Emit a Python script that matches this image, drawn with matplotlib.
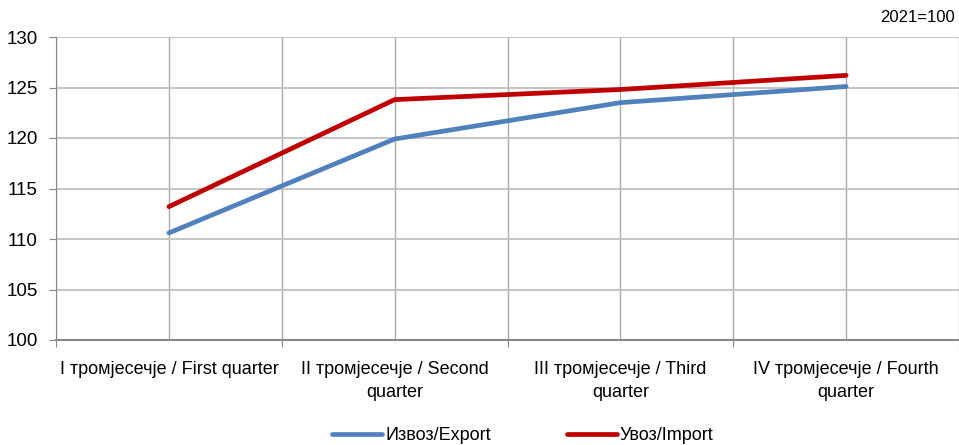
import matplotlib
matplotlib.use("Agg")
import matplotlib.pyplot as plt
import numpy as np

categories = [
    "I тромјесечје / First quarter",
    "II тромјесечје / Second\nquarter",
    "III тромјесечје / Third\nquarter",
    "IV тромјесечје / Fourth\nquarter",
]
export_vals = [110.6, 119.9, 123.5, 125.1]
import_vals = [113.2, 123.8, 124.8, 126.2]
yticks = [100, 105, 110, 115, 120, 125, 130]

plt.rcParams["font.family"] = ["Liberation Sans", "DejaVu Sans"]

fig = plt.figure(figsize=(9.59, 4.45), dpi=100)
ax = fig.add_axes([56 / 959, 1 - 340 / 445, 1 - 56 / 959, (340 - 37) / 445])

x = np.arange(len(categories))
ax.plot(x, export_vals, color="#4F81BD", lw=3.4, solid_capstyle="round", label="Извоз/Export")
ax.plot(x, import_vals, color="#C00000", lw=3.4, solid_capstyle="round", label="Увоз/Import")

ax.set_xlim(-0.5, len(categories) - 0.5)
ax.set_ylim(100, 130)
ax.set_yticks(yticks)
ax.tick_params(axis="y", labelsize=13.5, length=5, color="#888888", pad=8)

# boundaries carry tick marks, gridlines at categories and boundaries
bounds = np.arange(-0.5, len(categories), 1.0)
ax.set_xticks(bounds)
ax.set_xticklabels([])
ax.set_xticks(x, minor=True)
ax.set_xticklabels(categories, minor=True, fontsize=13, linespacing=1.45)
ax.tick_params(axis="x", which="major", length=5, color="#888888")
ax.tick_params(axis="x", which="minor", length=0, pad=15)
for b in list(bounds) + list(x):
    ax.axvline(b, color="#AAAAAA", lw=1, zorder=0)
ax.grid(axis="y", color="#C0C0C0", lw=1.3, zorder=0)

for s in ["top", "right"]:
    ax.spines[s].set_visible(False)
ax.spines["left"].set_color("#888888")
ax.spines["bottom"].set_color("#888888")
ax.spines["bottom"].set_linewidth(1.5)

fig.text(0.996, 1 - 18 / 445, "2021=100", ha="right", va="center", fontsize=12)

fig.legend(loc="lower center", bbox_to_anchor=(0.545, -0.035), ncol=2, frameon=False,
           fontsize=13, handlelength=2.8, columnspacing=4.2, handletextpad=0.15)

fig.savefig("out.png", dpi=100)
